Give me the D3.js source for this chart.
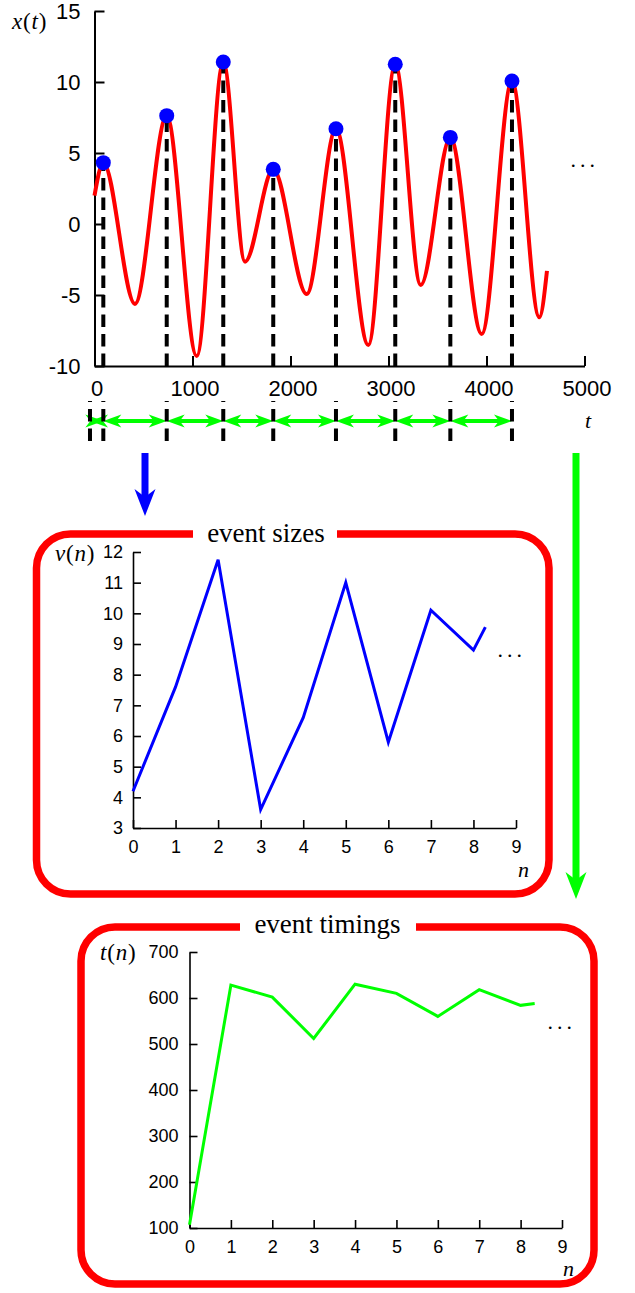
<!DOCTYPE html>
<html>
<head>
<meta charset="utf-8">
<script src="https://cdn.jsdelivr.net/npm/d3@7"></script>
<style>
  html, body { margin: 0; padding: 0; background: #fff; }
  svg { display: block; }
  .tick text { font-family: "Liberation Sans", Arial, sans-serif; fill: #000; }
  .serif { font-family: "Liberation Serif", "Times New Roman", serif; fill: #000; }
</style>
</head>
<body>
<script>
// ---- signal x(t): times and values of its turning points ----
const signalT = [0, 90, 413, 737, 1043, 1314, 1536, 1824, 2165, 2464, 2794, 3069, 3329, 3631, 3951, 4260, 4539, 4617];
const signalX = [2.0, 4.32, -5.63, 7.63, -9.3, 11.41, -2.65, 3.85, -4.93, 6.71, -8.52, 11.25, -4.3, 6.1, -7.75, 10.07, -6.57, -3.3];

// ---- detected events (local maxima) ----
const peakTimes  = [90, 737, 1314, 1824, 2464, 3069, 3631, 4260];
const peakValues = [4.32, 7.63, 11.41, 3.85, 6.71, 11.25, 6.1, 10.07];
const intervalStart = -46;

// ---- derived series ----
const sizeIndex   = [0, 1, 2, 3, 4, 5, 6, 7, 8, 8.28];
const eventSizes  = [4.2, 7.6, 11.75, 3.6, 6.6, 11.0, 5.8, 10.1, 8.8, 9.55];
const timingIndex = [0, 1, 2, 3, 4, 5, 6, 7, 8, 8.34];
const eventTimings = [107, 628, 602, 512, 630, 610, 560, 618, 584, 588];

// ---- tick values ----
const topXTicks = [0, 1000, 2000, 3000, 4000, 5000];
const topYTicks = [-10, -5, 0, 5, 10, 15];
const sizeYTicks = [3, 4, 5, 6, 7, 8, 9, 10, 11, 12];
const timingYTicks = [100, 200, 300, 400, 500, 600, 700];
const nTicks = [0, 1, 2, 3, 4, 5, 6, 7, 8, 9];

const RED = "#ff0000", BLUE = "#0000ff", GREEN = "#00ff00";

const svg = d3.select("body").append("svg")
  .attr("width", 635).attr("height", 1293);

// swept arrow head, tip at (0,0) pointing to +x
function headPath(len, half, notch) {
  return `M0,0 L${-len},${-half} L${-notch},0 L${-len},${half} Z`;
}
function drawHead(g, x, y, angleDeg, len, half, notch, color) {
  g.append("path")
    .attr("d", headPath(len, half, notch))
    .attr("transform", `translate(${x},${y}) rotate(${angleDeg})`)
    .attr("fill", color);
}

function styleAxis(g, fontSize, width) {
  g.select(".domain").attr("stroke", "#000").attr("stroke-width", width);
  g.selectAll(".tick line").attr("stroke", "#000").attr("stroke-width", width);
  g.selectAll(".tick text").style("font-size", fontSize + "px");
}

// math-style label: italic variables, upright parentheses
function mathLabel(g, x, y, v, arg, size) {
  const t = g.append("text").attr("class", "serif").attr("x", x).attr("y", y)
    .style("font-size", size + "px").style("letter-spacing", "0.8px");
  t.append("tspan").attr("font-style", "italic").text(v);
  t.append("tspan").text("(");
  t.append("tspan").attr("font-style", "italic").text(arg);
  t.append("tspan").text(")");
  return t;
}

// ================= upper panel: x(t) =================
const xT = d3.scaleLinear().domain([0, 5000]).range([94.5, 584.5]);
const yT = d3.scaleLinear().domain([-10, 15]).range([366, 11]);

const signalPanel = svg.append("g");

signalPanel.append("g")
  .attr("transform", `translate(0,${yT(-10)})`)
  .call(d3.axisBottom(xT).tickValues(topXTicks).tickSizeInner(-10).tickSizeOuter(0).tickPadding(14).tickFormat(d3.format("d")))
  .call(g => styleAxis(g, 22, 2))
  .call(g => g.selectAll(".tick text").attr("dx", 2));

signalPanel.append("g")
  .attr("transform", `translate(${xT(0)},0)`)
  .call(d3.axisLeft(yT).tickValues(topYTicks).tickSizeInner(-10).tickSizeOuter(0).tickPadding(14).tickFormat(d => d < 0 ? "-" + Math.abs(d) : d))
  .call(g => styleAxis(g, 22, 2));

const signal = signalT.map((t, i) => [t, signalX[i]]);
signalPanel.append("path")
  .datum(signal)
  .attr("fill", "none")
  .attr("stroke", RED)
  .attr("stroke-width", 4)
  .attr("d", d3.line().x(d => xT(d[0])).y(d => yT(d[1])).curve(d3.curveMonotoneX));

// dashed markers from each maximum down to the time axis
signalPanel.selectAll("line.mark")
  .data(peakTimes)
  .join("line")
  .attr("class", "mark")
  .attr("x1", d => xT(d)).attr("x2", d => xT(d))
  .attr("y1", yT(-10)).attr("y2", (d, i) => yT(peakValues[i]))
  .attr("stroke", "#000").attr("stroke-width", 4)
  .attr("stroke-dasharray", "12.5,7");

signalPanel.selectAll("circle.peak")
  .data(peakTimes)
  .join("circle")
  .attr("class", "peak")
  .attr("cx", d => xT(d))
  .attr("cy", (d, i) => yT(peakValues[i]))
  .attr("r", 7.5)
  .attr("fill", BLUE);

// axis labels
mathLabel(signalPanel, 12, 29, "x", "t", 23);

signalPanel.append("text").attr("class", "serif").attr("x", 585).attr("y", 428)
  .attr("font-style", "italic").style("font-size", "22px").text("t");

signalPanel.append("text").attr("class", "serif").attr("x", 570.5).attr("y", 166.5)
  .style("font-size", "22px").style("letter-spacing", "4px").text("...");

// ---- interval band: double arrows between successive maxima ----
const band = svg.append("g");
const bandY = 421;
const marks = [intervalStart, ...peakTimes];
for (let i = 0; i < marks.length - 1; i++) {
  const a = xT(marks[i]), b = xT(marks[i + 1]);
  if (b - a > 24) {
    band.append("line")
      .attr("x1", a + 10).attr("x2", b - 10)
      .attr("y1", bandY).attr("y2", bandY)
      .attr("stroke", GREEN).attr("stroke-width", 4);
  }
  drawHead(band, b, bandY, 0, 18, 6.5, 13, GREEN);
  drawHead(band, a, bandY, 180, 18, 6.5, 13, GREEN);
}
band.selectAll("line.bmark")
  .data(marks)
  .join("line")
  .attr("class", "bmark")
  .attr("x1", d => xT(d)).attr("x2", d => xT(d))
  .attr("y1", 441).attr("y2", 401)
  .attr("stroke", "#000").attr("stroke-width", 4)
  .attr("stroke-dasharray", "12.5,7");

// ---- flow arrows ----
const flow = svg.append("g");
flow.append("line").attr("x1", 145).attr("x2", 145).attr("y1", 453).attr("y2", 500)
  .attr("stroke", BLUE).attr("stroke-width", 7);
drawHead(flow, 145, 516, 90, 27, 10.5, 19, BLUE);
flow.append("line").attr("x1", 576).attr("x2", 576).attr("y1", 453).attr("y2", 883)
  .attr("stroke", GREEN).attr("stroke-width", 7);
drawHead(flow, 576, 899, 90, 27, 10.5, 19, GREEN);

// ---- framed panels ----
function frame(g, x0, y0, x1, y1, r, gapL, gapR, title, titleX, titleY) {
  const p = d3.path();
  p.moveTo(gapR, y0);
  p.lineTo(x1 - r, y0);
  p.arcTo(x1, y0, x1, y0 + r, r);
  p.lineTo(x1, y1 - r);
  p.arcTo(x1, y1, x1 - r, y1, r);
  p.lineTo(x0 + r, y1);
  p.arcTo(x0, y1, x0, y1 - r, r);
  p.lineTo(x0, y0 + r);
  p.arcTo(x0, y0, x0 + r, y0, r);
  p.lineTo(gapL, y0);
  g.append("path").attr("d", p.toString())
    .attr("fill", "none").attr("stroke", RED).attr("stroke-width", 7.5);
  g.append("text").attr("class", "serif")
    .attr("x", titleX).attr("y", titleY)
    .attr("text-anchor", "middle")
    .style("font-size", "27px")
    .text(title);
}

// ================= middle panel: v(n) =================
const sizePanel = svg.append("g");
frame(sizePanel, 36.5, 534, 549, 894, 34, 193, 337, "event sizes", 266, 542);

const xS = d3.scaleLinear().domain([0, 9]).range([133, 516]);
const yS = d3.scaleLinear().domain([3, 12]).range([828, 552]);

sizePanel.append("g")
  .attr("transform", `translate(0,${yS(3)})`)
  .call(d3.axisBottom(xS).tickValues(nTicks).tickSizeInner(-8).tickSizeOuter(0).tickPadding(12))
  .call(g => styleAxis(g, 18, 1.6));
sizePanel.append("g")
  .attr("transform", `translate(${xS(0)},0)`)
  .call(d3.axisLeft(yS).tickValues(sizeYTicks).tickSizeInner(-8).tickSizeOuter(0).tickPadding(10))
  .call(g => styleAxis(g, 18, 1.6));

sizePanel.append("path")
  .datum(sizeIndex.map((n, i) => [n, eventSizes[i]]))
  .attr("fill", "none").attr("stroke", BLUE).attr("stroke-width", 3)
  .attr("d", d3.line().x(d => xS(d[0])).y(d => yS(d[1])));

mathLabel(sizePanel, 55, 561, "v", "n", 23);

sizePanel.append("text").attr("class", "serif").attr("x", 518).attr("y", 877)
  .attr("font-style", "italic").style("font-size", "22px").text("n");
sizePanel.append("text").attr("class", "serif").attr("x", 497.5).attr("y", 656.5)
  .style("font-size", "22px").style("letter-spacing", "4px").text("...");

// ================= bottom panel: t(n) =================
const timingPanel = svg.append("g");
frame(timingPanel, 81, 927, 594, 1284, 34, 240, 416, "event timings", 327.5, 933);

const xN = d3.scaleLinear().domain([0, 9]).range([189.5, 562]);
const yN = d3.scaleLinear().domain([100, 700]).range([1228, 952]);

timingPanel.append("g")
  .attr("transform", `translate(0,${yN(100)})`)
  .call(d3.axisBottom(xN).tickValues(nTicks).tickSizeInner(-8).tickSizeOuter(0).tickPadding(12.5))
  .call(g => styleAxis(g, 18, 1.6));
timingPanel.append("g")
  .attr("transform", `translate(${xN(0)},0)`)
  .call(d3.axisLeft(yN).tickValues(timingYTicks).tickSizeInner(-8).tickSizeOuter(0).tickPadding(11))
  .call(g => styleAxis(g, 18, 1.6));

timingPanel.append("path")
  .datum(timingIndex.map((n, i) => [n, eventTimings[i]]))
  .attr("fill", "none").attr("stroke", GREEN).attr("stroke-width", 3)
  .attr("d", d3.line().x(d => xN(d[0])).y(d => yN(d[1])));

mathLabel(timingPanel, 100, 960, "t", "n", 23);

timingPanel.append("text").attr("class", "serif").attr("x", 563).attr("y", 1276)
  .attr("font-style", "italic").style("font-size", "22px").text("n");
timingPanel.append("text").attr("class", "serif").attr("x", 547.5).attr("y", 1028.5)
  .style("font-size", "22px").style("letter-spacing", "4px").text("...");
</script>
</body>
</html>
